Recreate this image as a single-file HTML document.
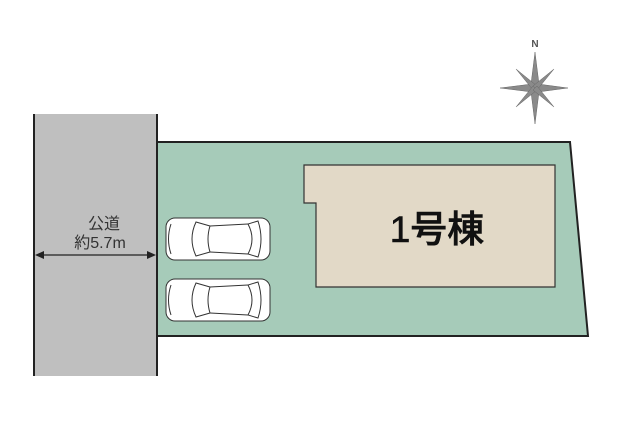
<!DOCTYPE html>
<html><head><meta charset="utf-8"><style>
html,body{margin:0;padding:0;background:#fff;}
svg{display:block;}
text{font-family:"Liberation Sans","Noto Sans CJK JP",sans-serif;}
</style></head><body>
<svg width="625" height="429" viewBox="0 0 625 429" xmlns="http://www.w3.org/2000/svg">
<rect x="34" y="114" width="123" height="262" fill="#bfbfbf"/>
<line x1="34" y1="114" x2="34" y2="376" stroke="#222" stroke-width="2"/>
<line x1="157" y1="114" x2="157" y2="376" stroke="#222" stroke-width="2"/>
<polygon points="157,142 570,142 588,336 157,336" fill="#a6cbb9" stroke="#222" stroke-width="2"/>
<polygon points="304,165 555,165 555,287 316,287 316,203 304,203" fill="#e2d9c7" stroke="#333" stroke-width="1.2"/>
<text x="437" y="242" font-size="37" font-weight="500" text-anchor="middle" fill="#111" stroke="#111" stroke-width="0.6">1号棟</text>
<text x="104" y="229" font-size="16" text-anchor="middle" fill="#333">公道</text>
<text x="100" y="248" font-size="16" text-anchor="middle" fill="#333">約5.7m</text>
<line x1="38" y1="255" x2="153" y2="255" stroke="#222" stroke-width="1.2"/>
<polygon points="35,255 44,251 44,259" fill="#222"/>
<polygon points="156,255 147,251 147,259" fill="#222"/>
<g id="car" fill="#fff" stroke="#333" stroke-width="1">
<rect x="166" y="218" width="104" height="42" rx="9"/>
<path d="M196,222 Q188,239 196,256 L210,252 Q206,239 210,226 Z"/>
<path d="M248,224 Q256,239 248,254 L258,257 Q264,239 258,221 Z"/>
<line x1="210" y1="226" x2="248" y2="224"/><line x1="210" y1="252" x2="248" y2="254"/>
<path d="M171,224 Q166,239 171,254" fill="none"/>
</g>
<use href="#car" transform="translate(0,61)"/>
<text x="535" y="47" font-size="10" font-weight="bold" text-anchor="middle" fill="#555">N</text>
<g fill="#8a8a8a" stroke="#666" stroke-width="0.5">
<polygon points="535,52 539,84 535,88 531,84"/>
<polygon points="535,124 531,92 535,88 539,92"/>
<polygon points="500,88 532,84 535,88 532,92"/>
<polygon points="568,88 538,92 535,88 538,84"/>
<polygon points="516,69 537,86 535,88 533,90" />
<polygon points="554,69 537,90 535,88 533,86" />
<polygon points="516,107 533,86 535,88 537,90"/>
<polygon points="554,107 533,90 535,88 537,86"/>
</g>
</svg>
</body></html>
